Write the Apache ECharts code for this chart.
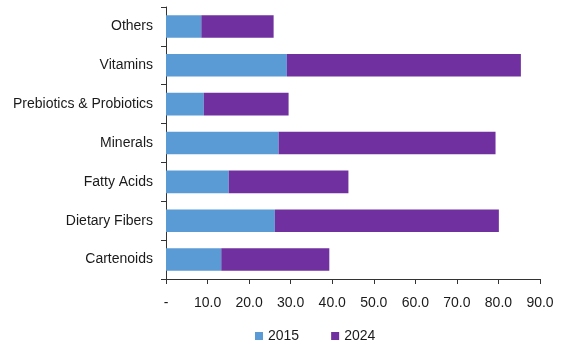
<!DOCTYPE html>
<html>
<head>
<meta charset="utf-8">
<script src="https://cdn.jsdelivr.net/npm/echarts@6/dist/echarts.min.js"></script>
<style>
  html, body { margin: 0; padding: 0; background: #fff; }
  #chart { width: 566px; height: 344px; }
</style>
</head>
<body>
<div id="chart"></div>
<script>
// Ingredient categories, bottom to top
var categories = ['Cartenoids', 'Dietary Fibers', 'Fatty Acids', 'Minerals', 'Prebiotics & Probiotics', 'Vitamins', 'Others'];
var seriesNames = ['2015', '2024'];
var values2015 = [13.3, 26.2, 15.1, 27.1, 9.1, 29.1, 8.5];
var values2024 = [26.0, 53.9, 28.8, 52.2, 20.4, 56.3, 17.4];
var colors = ['#5b9bd5', '#7030a0'];

var chart = echarts.init(document.getElementById('chart'), null, { renderer: 'canvas' });

var labelFont = { fontFamily: 'Liberation Sans, Arial, sans-serif', fontSize: 14, color: '#1a1a1a' };

chart.setOption({
  animation: false,
  color: colors,
  grid: { left: 166, right: 26, top: 7, bottom: 65, containLabel: false },
  legend: {
    top: 324,
    left: 250,
    itemWidth: 8,
    itemHeight: 8,
    itemGap: 32,
    icon: 'rect',
    textStyle: Object.assign({}, labelFont),
    data: seriesNames
  },
  xAxis: {
    type: 'value',
    min: 0,
    max: 90,
    interval: 10,
    splitLine: { show: false },
    axisLine: { show: true, lineStyle: { color: '#333', width: 1 } },
    axisTick: { show: true, length: 5, lineStyle: { color: '#333' } },
    axisLabel: Object.assign({}, labelFont, {
      margin: 17,
      formatter: function (v) { return v === 0 ? '-' : v.toFixed(1); }
    })
  },
  yAxis: {
    type: 'category',
    data: categories,
    axisLine: { show: true, lineStyle: { color: '#333', width: 1 } },
    axisTick: { show: true, length: 5, lineStyle: { color: '#333' } },
    axisLabel: Object.assign({}, labelFont, { margin: 13 })
  },
  series: [
    {
      name: seriesNames[0],
      type: 'bar',
      stack: 'total',
      barCategoryGap: '42%',
      data: values2015
    },
    {
      name: seriesNames[1],
      type: 'bar',
      stack: 'total',
      barCategoryGap: '42%',
      data: values2024
    }
  ]
});
</script>
</body>
</html>
